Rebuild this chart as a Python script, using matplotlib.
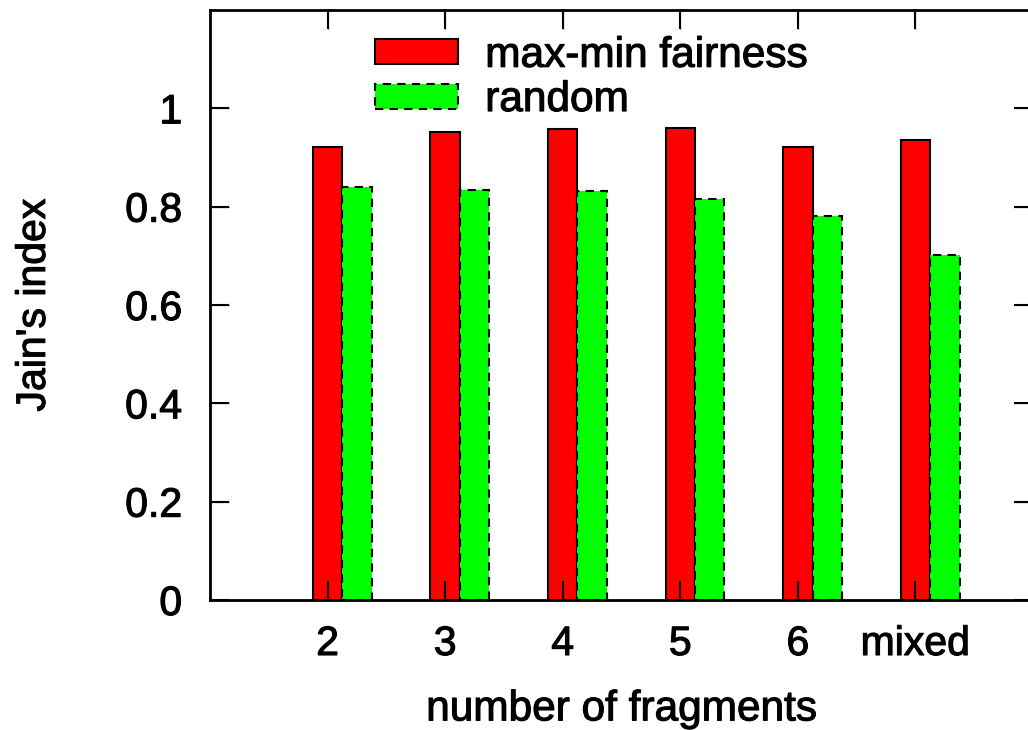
import numpy as np
import matplotlib.pyplot as plt
import matplotlib.patheffects as pe

plt.rcParams['font.family'] = ['Liberation Sans', 'DejaVu Sans']
plt.rcParams['font.size'] = 29.5
# gnuplot text looks a bit heavier than plain Arial
plt.rcParams['path.effects'] = [pe.withStroke(linewidth=0.8, foreground="black")]

categories = ["2", "3", "4", "5", "6", "mixed"]
maxmin = [0.921, 0.951, 0.957, 0.961, 0.921, 0.935]
rand = [0.840, 0.833, 0.831, 0.816, 0.782, 0.701]

x = np.arange(len(categories))
w = 0.25

fig = plt.figure(figsize=(10.28, 7.3), dpi=100)
ax = fig.add_axes([210 / 1028, 130 / 730, 823 / 1028, 590 / 730])

ax.bar(x, maxmin, w, color="#ff0000", edgecolor="black", linewidth=1.5,
       label="max-min fairness", path_effects=[])
ax.bar(x + w, rand, w, color="#00ff00", edgecolor="black", linewidth=1.5,
       linestyle=(0, (4, 3)), label="random", path_effects=[])

ax.set_xlim(-1, 6)
ax.set_ylim(0, 1.2)
ax.set_xticks(x)
ax.set_xticklabels(categories)
ax.set_yticks([0, 0.2, 0.4, 0.6, 0.8, 1.0])
ax.set_yticklabels(["0", "0.2", "0.4", "0.6", "0.8", "1"])

ax.tick_params(direction="in", length=14, width=1.5, top=True, right=True)
ax.tick_params(axis="y", pad=20)
ax.tick_params(axis="x", pad=18)
for s in ax.spines.values():
    s.set_linewidth(2)

ax.set_xlabel("number of fragments", fontsize=30.5, labelpad=19)
ax.set_ylabel("Jain's index", labelpad=52)

leg = ax.legend(loc="upper left", bbox_to_anchor=(0.18, 0.985), frameon=False,
                fontsize=30.5, handlelength=1.95, handleheight=0.53,
                handletextpad=0.65, labelspacing=0.1, borderaxespad=0)
for p in leg.get_patches():
    p.set_path_effects([])

fig.savefig("out.png", dpi=100)
